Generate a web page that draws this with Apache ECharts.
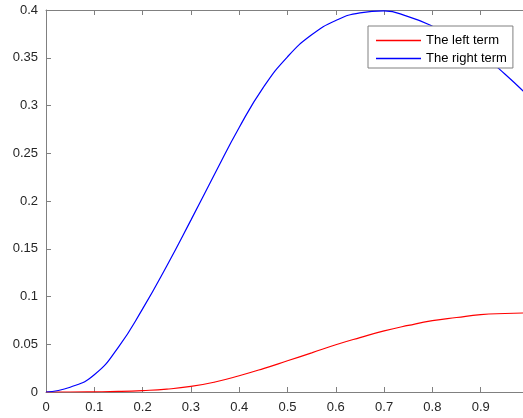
<!DOCTYPE html>
<html>
<head>
<meta charset="utf-8">
<script src="https://cdn.jsdelivr.net/npm/echarts@6/dist/echarts.min.js"></script>
<style>
  html, body { margin: 0; padding: 0; background: #fff; }
  #main { width: 523px; height: 418px; }
</style>
</head>
<body>
<!-- chart container -->
<div id="main"></div>
<script>
  // values
  var xValues = [0, 0.05, 0.1, 0.15, 0.2, 0.25, 0.3, 0.35, 0.4, 0.45, 0.5,
                 0.55, 0.6, 0.65, 0.7, 0.75, 0.8, 0.85, 0.9, 0.95, 1.0];
  var leftTerm = [0, 0, 0.0002, 0.0006, 0.0015, 0.003, 0.0058, 0.0105, 0.017, 0.0245, 0.0327,
                  0.041, 0.0495, 0.057, 0.064, 0.0697, 0.0747, 0.078, 0.081, 0.0822, 0.0828];
  var rightTerm = [0, 0.005, 0.018, 0.047, 0.087, 0.132, 0.180, 0.229, 0.277, 0.319, 0.351,
                   0.374, 0.389, 0.397, 0.399, 0.393, 0.383, 0.370, 0.354, 0.333, 0.309];
  var seriesNames = ['The left term', 'The right term'];

  function pairs(ys) {
    return xValues.map(function (x, i) { return [x, ys[i]]; });
  }

  var axisColor = '#808080';
  var textColor = '#262626';
  var font = 'Liberation Sans, Arial, sans-serif';

  var chart = echarts.init(document.getElementById('main'));
  chart.setOption({
    animation: false,
    grid: { left: 46, top: 10, right: -6, bottom: 26, outerBoundsMode: 'none' },
    legend: {
      orient: 'vertical',
      left: 368,
      top: 26,
      data: seriesNames,
      icon: 'rect',
      itemWidth: 45,
      itemHeight: 1.5,
      itemGap: 5,
      padding: [8, 6, 3, 8],
      borderColor: axisColor,
      borderWidth: 1,
      backgroundColor: '#fff',
      textStyle: { fontFamily: font, fontSize: 13, color: '#000' }
    },
    xAxis: [{
      type: 'value', min: 0, max: 1, interval: 0.1,
      axisLine: { lineStyle: { color: axisColor } },
      axisTick: { inside: true, length: 5, lineStyle: { color: axisColor } },
      axisLabel: { margin: 9, fontFamily: font, fontSize: 13, color: textColor },
      splitLine: { show: false }
    }, {
      type: 'value', min: 0, max: 1, interval: 0.1, position: 'top',
      axisLine: { lineStyle: { color: axisColor } },
      axisTick: { inside: true, length: 5, lineStyle: { color: axisColor } },
      axisLabel: { show: false },
      splitLine: { show: false }
    }],
    yAxis: {
      type: 'value', min: 0, max: 0.4, interval: 0.05,
      axisLine: { show: true, lineStyle: { color: axisColor } },
      axisTick: { show: true, inside: true, length: 5, lineStyle: { color: axisColor } },
      axisLabel: { margin: 8, fontFamily: font, fontSize: 13, color: textColor },
      splitLine: { show: false }
    },
    series: [{
      name: seriesNames[0], type: 'line', xAxisIndex: 0,
      data: pairs(leftTerm), smooth: true, showSymbol: false,
      color: '#ff0000', lineStyle: { width: 1.2 }
    }, {
      name: seriesNames[1], type: 'line', xAxisIndex: 0,
      data: pairs(rightTerm), smooth: true, showSymbol: false,
      color: '#0000ff', lineStyle: { width: 1.2 }
    }]
  });
</script>
</body>
</html>
